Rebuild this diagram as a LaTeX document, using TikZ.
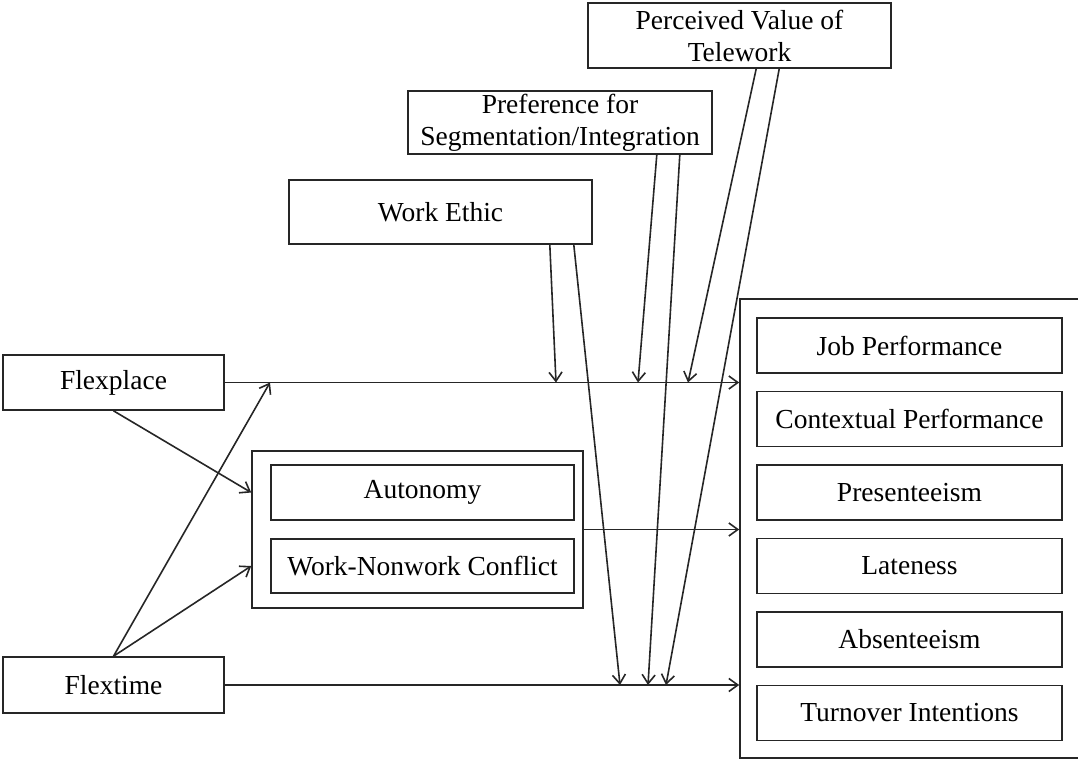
\documentclass[tikz,border=0pt]{standalone}
\usepackage{fontspec}
\setmainfont{Liberation Serif}
\usetikzlibrary{arrows.meta}
\begin{document}
\begin{tikzpicture}[x=1pt,y=-1pt,
  line width=1.6pt, draw=black!85,
  box/.style={draw=black!85, line width=1.6pt, rectangle, inner sep=0pt, align=center,
    font=\fontsize{27.5}{32}\selectfont},
  arr/.style={draw=black!85, line width=1.6pt,
    -{Straight Barb[length=9pt,width=13pt,line width=1.6pt]}}]
\useasboundingbox (0,0) rectangle (1078,763);

% moderators
\node[box, minimum width=303, minimum height=65] (pv) at (739.5,35.5) {Perceived Value of\\Telework};
\node[box, minimum width=304, minimum height=63] (pref) at (560,122.5) {Preference for\\Segmentation/Integration};
\node[box, minimum width=303, minimum height=64] (we) at (440.5,212) {Work Ethic};

% predictors
\node[box, minimum width=221, minimum height=55] (flexplace) at (113.5,382.5) {Flexplace};
\node[box, minimum width=221, minimum height=56] (flextime) at (113.5,685) {Flextime};

% mediators
\node[box, minimum width=331, minimum height=157] (med) at (417.5,529.5) {};
\node[box, minimum width=303, minimum height=55] (auto) at (422.5,492.5) {Autonomy};
\node[box, minimum width=303, minimum height=54] (wnc) at (422.5,566) {Work-Nonwork Conflict};

% outcomes
\node[box, minimum width=342, minimum height=459] (out) at (911,528.5) {};
\node[box, minimum width=305, minimum height=55] (o1) at (909.5,345.5) {Job Performance};
\node[box, minimum width=305, minimum height=55] (o2) at (909.5,419) {Contextual Performance};
\node[box, minimum width=305, minimum height=55] (o3) at (909.5,492.5) {Presenteeism};
\node[box, minimum width=305, minimum height=55] (o4) at (909.5,566) {Lateness};
\node[box, minimum width=305, minimum height=55] (o5) at (909.5,639.5) {Absenteeism};
\node[box, minimum width=305, minimum height=55] (o6) at (909.5,713) {Turnover Intentions};

% points where the moderating paths meet the direct paths
\coordinate (fp) at (270,382.5);
\coordinate (m1) at (556,382.5);
\coordinate (m2) at (638,382.5);
\coordinate (m3) at (688,382.5);
\coordinate (m4) at (620,685);
\coordinate (m5) at (648,685);
\coordinate (m6) at (666,685);

% direct paths
\draw[arr] (flexplace.east) -- (flexplace.east -| out.west);
\draw[arr] (flextime.east) -- (flextime.east -| out.west);
\draw[arr] (med.east) -- (med.east -| out.west);
\draw[arr] (flexplace.south) -- (med.west |- auto.center);
\draw[arr] (flextime.north) -- (med.west |- wnc.center);
\draw[arr] (flextime.north) -- (fp);

% moderating paths
\draw[arr] ([xshift=-43pt]we.south east) -- (m1);
\draw[arr] ([xshift=-19pt]we.south east) -- (m4);
\draw[arr] ([xshift=-56pt]pref.south east) -- (m2);
\draw[arr] ([xshift=-33pt]pref.south east) -- (m5);
\draw[arr] ([xshift=169pt]pv.south west) -- (m3);
\draw[arr] ([xshift=192pt]pv.south west) -- (m6);
\end{tikzpicture}
\end{document}
